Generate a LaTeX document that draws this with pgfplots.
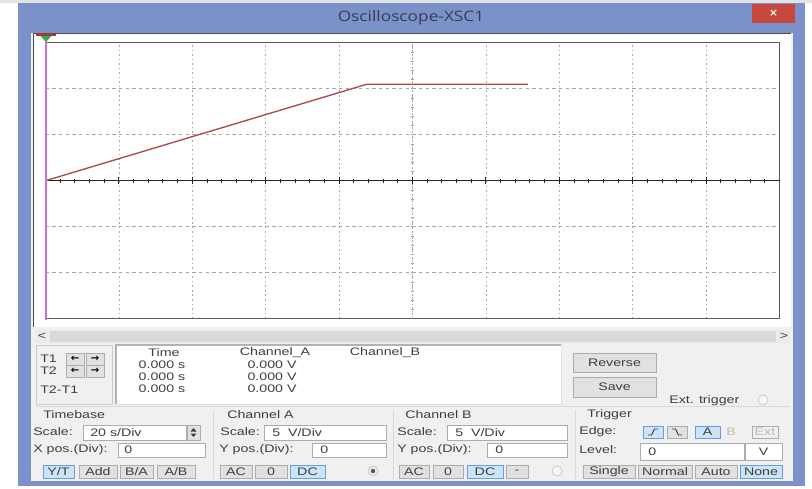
\documentclass[border=0pt]{standalone}
\usepackage{fontspec}
\usepackage{pgfplots}
\pgfplotsset{compat=1.18}
\newfontfamily\uiff{Liberation Sans}[FakeStretch=1.3]
\newfontfamily\titleff{Open Sans}[FakeStretch=1.2]
\newfontfamily\symff{DejaVu Sans}
\definecolor{frameblue}{RGB}{122,146,201}
\definecolor{closered}{RGB}{199,72,62}
\definecolor{panel}{RGB}{240,240,240}
\definecolor{uitext}{RGB}{62,62,62}
\definecolor{titletext}{RGB}{55,62,80}
\definecolor{btnface}{RGB}{225,225,225}
\definecolor{btnedge}{RGB}{173,173,173}
\definecolor{onface}{RGB}{205,228,247}
\definecolor{onedge}{RGB}{100,160,225}
\definecolor{boxedge}{RGB}{170,172,178}
\definecolor{trace}{RGB}{170,74,74}
\definecolor{cursorc}{RGB}{205,110,220}
\definecolor{gridc}{RGB}{165,165,165}
\definecolor{borderc}{RGB}{90,90,90}
\definecolor{markred}{RGB}{150,60,50}
\definecolor{markgreen}{RGB}{60,170,70}
\newcommand\uifont{\uiff\fontsize{8.2pt}{9pt}\selectfont}
\tikzset{
 btn/.style={draw=btnedge, fill=btnface, line width=0.6pt},
 bon/.style={draw=onedge, fill=onface, line width=0.6pt},
 tbox/.style={draw=boxedge, fill=white, line width=0.6pt},
 ui/.style={font=\uifont, text=uitext, inner sep=0pt, anchor=west},
 uic/.style={font=\uifont, text=uitext, inner sep=0pt},
}
\newcommand\Btn[6][btn]{\draw[#1] (#2,#3) rectangle (#4,#5); \node[uic] at ({(#2+#4)/2},{(#3+#5)/2}) {#6};}
\begin{document}
\begin{tikzpicture}
\path[use as bounding box] (0,0) rectangle (609pt,-366pt);
\begin{scope}[x=0.75pt,y=-0.75pt]
% frame
\fill[white] (0,0) rectangle (812,488);
\fill[gray!22] (0,0) rectangle (812,3);
\fill[frameblue] (18,3) rectangle (805,486);
\fill[panel] (31,33) rectangle (793,481);
\fill[white] (34,34) rectangle (791,327);
\draw[gray!60!black, line width=1.2pt] (33.5,327) -- (33.5,33.5) -- (791,33.5);
% title
\node[font=\titleff\fontsize{10.8pt}{12pt}\selectfont, text=titletext, inner sep=0pt] at (411,18) {Oscilloscope-XSC1};
\fill[closered] (752,4) rectangle (795,23);
\node[white, inner sep=0pt, font=\symff\bfseries\fontsize{8pt}{8pt}\selectfont] at (773.5,13.5) {×};
% scroll bar
\fill[gray!16] (36,330) rectangle (790,343);
\fill[gray!30] (50,331) rectangle (776,342);
\node[uic] at (42,336.5) {<};
\node[uic] at (784,336.5) {>};
% cursor panel
\draw[gray!40, line width=0.6pt] (36,345) rectangle (112,404);
\node[ui] at (40,359) {T1};
\node[ui] at (40,371) {T2};
\node[ui] at (40,390) {T2-T1};
\foreach \yy in {353,365}{
 \draw[btn] (66,\yy) rectangle (84,\yy+12);
 \draw[btn] (86,\yy) rectangle (104,\yy+12);
 \node[inner sep=0pt, font=\symff\bfseries\fontsize{7.5pt}{7.5pt}\selectfont] at (75,\yy+6) {←};
 \node[inner sep=0pt, font=\symff\bfseries\fontsize{7.5pt}{7.5pt}\selectfont] at (95,\yy+6) {→};
}
% readout
\fill[white] (116,345) rectangle (561,404);
\draw[gray!60, line width=0.8pt] (116,404)--(116,345)--(561,345);
\draw[gray!25, line width=0.6pt] (561,345)--(561,404)--(116,404);
\node[uic] at (164,353) {Time};
\node[uic] at (275,353) {Channel\_A};
\node[uic] at (385,353) {Channel\_B};
\foreach \yy in {365,377,389}{
 \node[uic] at (162,\yy) {0.000 s};
 \node[uic] at (272,\yy) {0.000 V};
}
\Btn{573}{353}{656}{372}{Reverse}
\Btn{573}{377}{656}{397}{Save}
\node[ui] at (669,401) {Ext. trigger};
\draw[gray!40, fill=gray!8, line width=0.6pt] (763,400) circle[radius=5];
% separators
\draw[gray!30, line width=0.6pt] (36,406)--(790,406);
\foreach \xx in {213,393,575}{\draw[gray!30, line width=0.6pt] (\xx,410)--(\xx,479);}
% timebase
\node[ui] at (43,415) {Timebase};
\node[ui] at (33,432) {Scale:};
\draw[tbox] (83,425) rectangle (186,440);
\node[ui] at (90,432.5) {20 s/Div};
\draw[btn] (187,425) rectangle (200,440);
\fill[uitext] (190.5,431.5)--(196.5,431.5)--(193.5,428)--cycle;
\fill[uitext] (190.5,433.5)--(196.5,433.5)--(193.5,437)--cycle;
\node[ui] at (33,450) {X pos.(Div):};
\draw[tbox] (118,443) rectangle (205,457);
\node[ui] at (124,450) {0};
\Btn[bon]{43}{465}{74}{478}{Y/T}
\Btn{79}{465}{117}{478}{Add}
\Btn{120}{465}{153}{478}{B/A}
\Btn{157}{465}{195}{478}{A/B}
% channel A
\node[ui] at (227,415) {Channel A};
\node[ui] at (220,432) {Scale:};
\draw[tbox] (264,425) rectangle (386,440);
\node[ui] at (272,432.5) {5\ \ V/Div};
\node[ui] at (219,450) {Y pos.(Div):};
\draw[tbox] (312,443) rectangle (386,457);
\node[ui] at (320,450) {0};
\Btn{220}{465}{252}{478}{AC}
\Btn{255}{465}{287}{478}{0}
\Btn[bon]{290}{465}{325}{478}{DC}
\draw[gray!40, fill=gray!15, line width=0.6pt] (373,471) circle[radius=5];
\fill[gray!70!black] (373,471) circle[radius=2.2];
% channel B
\node[ui] at (405,415) {Channel B};
\node[ui] at (397,432) {Scale:};
\draw[tbox] (447,425) rectangle (567,440);
\node[ui] at (455,432.5) {5\ \ V/Div};
\node[ui] at (397,450) {Y pos.(Div):};
\draw[tbox] (487,443) rectangle (567,457);
\node[ui] at (495,450) {0};
\Btn{399}{465}{429}{478}{AC}
\Btn{433}{465}{463}{478}{0}
\Btn[bon]{467}{465}{503}{478}{DC}
\Btn{506}{465}{528}{478}{-}
\draw[gray!40, fill=gray!8, line width=0.6pt] (557,471) circle[radius=5];
% trigger
\node[ui] at (587,415) {Trigger};
\node[ui] at (579,432) {Edge:};
\draw[bon] (643,426) rectangle (663,438);
\draw[uitext, line width=0.7pt] (648,435)--(651.5,435)--(654.5,429)--(658,429);
\draw[btn] (667,426) rectangle (687,438);
\draw[uitext, line width=0.7pt] (672,429)--(675.5,429)--(678.5,435)--(682,435);
\Btn[bon]{695}{426}{720}{438}{A}
\node[uic, text=gray!55] at (731,432) {B};
\draw[btn, fill=panel] (752,426) rectangle (778,438);
\node[uic, text=gray!55] at (765,432) {Ext};
\node[ui] at (579,450) {Level:};
\draw[tbox] (640,443) rectangle (744,460);
\node[ui] at (648,452) {0};
\draw[tbox] (745,443) rectangle (782,460);
\node[uic] at (763.5,451.5) {V};
\Btn{583}{465}{635}{478}{Single}
\Btn{638}{465}{692}{478}{Normal}
\Btn{695}{465}{737}{478}{Auto}
\Btn[bon]{740}{465}{782}{478}{None}
\end{scope}
\begin{axis}[at={(34.125pt,-239.025pt)}, anchor=south west,
 width=550.5pt, height=207pt, scale only axis,
 xmin=0, xmax=200, ymin=-15, ymax=15,
 xtick={20,40,...,180}, ytick={-10,-5,5,10},
 xticklabels={}, yticklabels={}, major tick length=0pt,
 grid=major,
 every major x grid/.append style={gridc, dash pattern=on 1.2pt off 2.2pt, line width=0.6pt},
 every major y grid/.append style={gridc, dash pattern=on 2.5pt off 2.5pt, line width=0.6pt},
 axis line style={borderc, line width=1.1pt},
 clip=false]
\draw[gray!70, dash pattern=on 1pt off 1.5pt, line width=0.5pt] (axis cs:100,-15) -- (axis cs:100,15);
\pgfplotsinvokeforeach{-14,-13,...,14}{\draw[gray!70, line width=0.5pt] ([xshift=-1.3pt]axis cs:100,#1) -- ([xshift=1.3pt]axis cs:100,#1);}
\draw[black!85, line width=0.8pt] (axis cs:0,0) -- (axis cs:200,0);
\pgfplotsinvokeforeach{4,8,...,196}{\draw[black!85, line width=0.7pt] ([yshift=-1.4pt]axis cs:#1,0) -- ([yshift=1.4pt]axis cs:#1,0);}
\pgfplotsinvokeforeach{20,40,...,180}{\draw[black!85, line width=0.8pt] ([yshift=-2.6pt]axis cs:#1,0) -- ([yshift=2.6pt]axis cs:#1,0);}
\addplot[trace, line width=1.0pt, no marks] coordinates {(0,0) (87.5,10.48) (131.5,10.48)};
\end{axis}
\begin{scope}[x=0.75pt,y=-0.75pt]
\draw[cursorc, line width=1.2pt] (45.7,36) -- (45.7,320);
\fill[markred] (36,33) rectangle (56,36);
\fill[markgreen] (40.5,36)--(51.5,36)--(46,42)--cycle;
\end{scope}
\end{tikzpicture}
\end{document}
